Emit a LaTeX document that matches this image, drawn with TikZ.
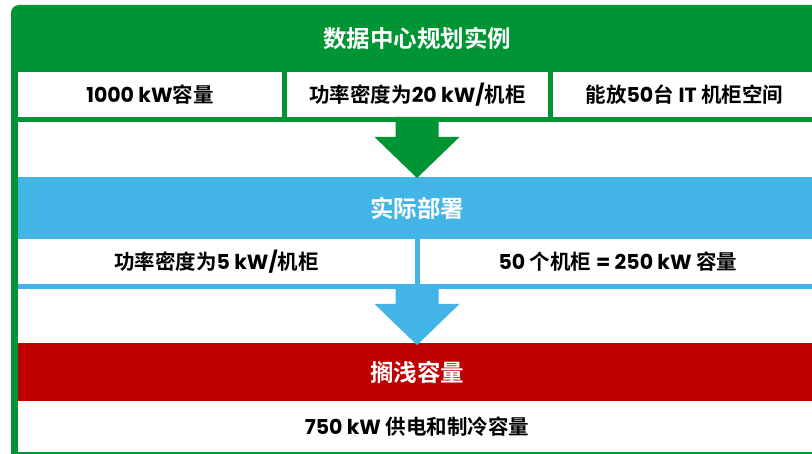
\documentclass[tikz,border=0pt]{standalone}
\usepackage{fontspec}
\setmainfont{Noto Sans CJK SC Bold}
\newfontfamily\latf{Poppins}
\newcommand\Lt[1]{{\latf\bfseries #1}}
\usetikzlibrary{calc}
\definecolor{segreen}{RGB}{0,149,52}
\definecolor{seblue}{RGB}{66,180,230}
\definecolor{sered}{RGB}{190,0,0}
\newcommand\blockarrow[3]{%
  \fill[#1] let \p1=(#2), \p2=(#3) in
    (\x2-21.5pt,\y1) -- (\x2+21.5pt,\y1) -- (\x2+21.5pt,\y2+41pt) --
    (\x2+42.5pt,\y2+41pt) -- (\x2,\y2) -- (\x2-42.5pt,\y2+41pt) --
    (\x2-21.5pt,\y2+41pt) -- cycle;}
\begin{document}
\begin{tikzpicture}[x=1pt,y=-1pt,
  box/.style={rectangle, inner sep=0pt, outer sep=0pt, draw=none},
  cell/.style={box, fill=white, text=black, font=\fontsize{20.5}{24}\selectfont},
  band/.style={box, text=white, font=\fontsize{23.5}{28}\selectfont}]
\useasboundingbox (0,0) rectangle (812,454);
\clip (0,0) rectangle (812,454);
% outer frame
\fill[segreen, rounded corners=8pt] (11,5) rectangle (840,475);
% header
\node[band, minimum width=798pt, minimum height=67pt] (head) at (417,38.5) {数据中心规划实例};
% row 1
\node[cell, minimum width=264pt, minimum height=45pt] (c1) at (150,94.5) {\Lt{1000 kW}容量};
\node[cell, minimum width=261pt, minimum height=45pt] (c2) at (417.5,94.5) {功率密度为\Lt{20 kW/}机柜};
\node[cell, minimum width=263pt, minimum height=45pt] (c3) at (684.5,94.5) {能放\Lt{50}台\ \Lt{IT}\ 机柜空间};
% gap 1
\node[cell, minimum width=798pt, minimum height=55pt] (gap1) at (417,149.5) {};
% blue band
\node[band, fill=seblue, minimum width=798pt, minimum height=62pt] (deploy) at (417,208) {实际部署};
\node[box, fill=seblue, minimum width=798pt, minimum height=50pt] (row2) at (417,264) {};
\node[cell, minimum width=397pt, minimum height=45pt] (d1) at (216.5,261.5) {功率密度为\Lt{5 kW/}机柜};
\node[cell, minimum width=396pt, minimum height=45pt] (d2) at (618,261.5) {\Lt{50} 个机柜 \Lt{= 250 kW} 容量};
% gap 2
\node[cell, minimum width=798pt, minimum height=54pt] (gap2) at (417,316) {};
% red band
\node[band, fill=sered, minimum width=798pt, minimum height=58pt] (strand) at (417,372) {搁浅容量};
\node[cell, minimum width=798pt, minimum height=51pt] (bottom) at (417,426.5) {\Lt{750 kW} 供电和制冷容量};
% block arrows
\path (c2.south) coordinate (ga) (deploy.north) coordinate (gb);
\blockarrow{segreen}{ga}{[yshift=-1pt]gb}
\blockarrow{seblue}{row2.south}{[yshift=-2pt]strand.north}
\end{tikzpicture}
\end{document}
